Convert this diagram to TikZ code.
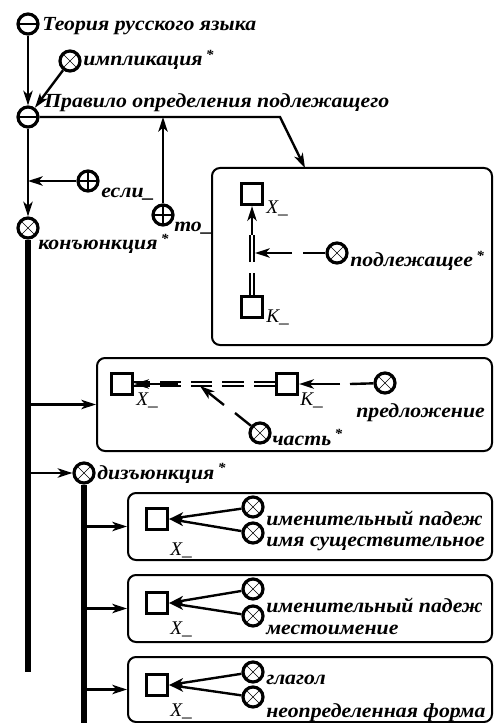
\documentclass[tikz,border=0pt]{standalone}
\usepackage{fontspec}
\setmainfont{Liberation Serif}
\newfontfamily\lblfont[FakeStretch=1.09]{Liberation Serif}
\usetikzlibrary{arrows.meta, positioning, fit}

\tikzset{
  sym/.style={circle, draw, line width=2.4pt, minimum size=15pt, inner sep=0pt, fill=white},
  ominus/.style={sym, path picture={\draw[line width=1.8pt] (path picture bounding box.west) -- (path picture bounding box.east);}},
  otimes/.style={sym, path picture={\draw[line width=0.5pt] (path picture bounding box.north west) -- (path picture bounding box.south east) (path picture bounding box.north east) -- (path picture bounding box.south west);}},
  oplus/.style={sym, path picture={\draw[line width=0.8pt] (path picture bounding box.west) -- (path picture bounding box.east) (path picture bounding box.north) -- (path picture bounding box.south);}},
  sq/.style={draw, line width=2.2pt, minimum size=16pt, inner sep=0pt, fill=white},
  lbl/.style={anchor=base west, inner sep=0pt, font=\lblfont\bfseries\itshape\fontsize{15}{17}\selectfont},
  var/.style={anchor=base west, inner sep=0pt, font=\itshape\fontsize{14.5}{16}\selectfont},
  frame/.style={draw, line width=1.5pt, rounded corners=6pt, inner sep=0pt},
  link/.style={line width=1.8pt},
  arr/.style={link, -{Stealth[length=11pt, width=7pt, inset=3pt]}},
  dbl/.style={double, double distance=2.2pt, line width=1.3pt},
  bar/.style={line width=5pt}
}

\begin{document}
\begin{tikzpicture}[x=0.75pt, y=-0.75pt]
  \useasboundingbox (0,0) rectangle (494,723);

  % Rule head
  \node[ominus] (teoria) at (28,24) {};
  \node[lbl] (teoriatxt) at (42,31) {Теория русского языка};
  \node[otimes] (impl) at (70,61) {};
  \node[lbl] (impltxt) at (83,66) {импликация\,\textsuperscript{*}};
  \node[ominus] (pravilo) at (28,117) {};
  \node[lbl] (pravilotxt) at (44,108) {Правило определения подлежащего};
  \draw[arr] (teoria) -- (pravilo);
  \draw[arr] (impl) -- (pravilo);

  % if / then
  \node[oplus] (esli) at (88,181) {};
  \node[lbl] (eslitxt) at (101,198) {если\_};
  \node[oplus] (to) at (163,215) {};
  \node[lbl] (totxt) at (174,232) {то\_};
  \node[otimes] (konj) at (28,228) {};
  \node[lbl] (konjtxt) at (38,250) {конъюнкция\,\textsuperscript{*}};
  \draw[arr] (pravilo) -- (konj);
  \draw[arr] (esli) -- (esli -| pravilo);
  \draw[arr] (to) -- (to |- pravilo);

  % subject box
  \node[frame, fit={(212,168) (492,345)}] (box1) {};
  \coordinate (knee) at (280,117);
  \coordinate (tip1) at (305,168);
  \draw[arr] (pravilo) -- (knee) -- (tip1);
  \node[sq] (sqx) at (252,194) {};
  \node[var] (sqxtxt) at (266,214) {X\_};
  \node[sq] (sqk) at (252,307) {};
  \node[var] (sqktxt) at (266,322) {K\_};
  \node[otimes] (podl) at (337,253) {};
  \node[lbl] (podltxt) at (350,267) {подлежащее\,\textsuperscript{*}};
  \coordinate (dk) at (252,273);
  \coordinate (du) at (252,262);
  \coordinate (dt) at (252,235);
  \coordinate (pgap) at (303,253);
  \coordinate (pgapend) at (292,253);
  \coordinate (ptip) at (255,253);
  \draw[dbl] (sqk) -- (dk);
  \draw[dbl] (du) -- (dt);
  \draw[arr] (dt) -- (sqx);
  \draw[link] (podl) -- (pgap);
  \draw[arr] (pgapend) -- (ptip);

  % sentence box
  \node[frame, fit={(97,358) (492,451)}] (box2) {};
  \draw[arr] (konj |- box2.west) -- (box2.west);
  \node[sq] (sqx2) at (122,384) {};
  \node[var] (sqx2txt) at (136,405) {X\_};
  \node[sq] (sqk2) at (287,384) {};
  \node[var] (sqk2txt) at (300,405) {K\_};
  \node[otimes] (chast) at (260,433) {};
  \node[lbl] (chasttxt) at (272,445) {часть\,\textsuperscript{*}};
  \node[otimes] (predl) at (385,383) {};
  \node[lbl] (predltxt) at (356,417) {предложение};
  \draw[dbl, dash pattern=on 16pt off 7.5pt] (sqk2) -- (sqx2);
  \coordinate (xa) at (178,384);
  \draw[arr] (xa) -- (sqx2);
  \coordinate (ca) at (235,413);
  \coordinate (cb) at (224,405);
  \coordinate (ct) at (200,386);
  \draw[link] (chast) -- (ca);
  \draw[arr] (cb) -- (ct);
  \coordinate (pa) at (350,384);
  \coordinate (pb) at (340,384);
  \draw[link] (predl) -- (pa);
  \draw[arr] (pb) -- (sqk2);

  % disjunction
  \node[otimes] (diz) at (84,473) {};
  \node[lbl] (diztxt) at (97,479) {дизъюнкция\,\textsuperscript{*}};
  \draw[arr] (konj |- diz) -- (diz);
  \coordinate (bar1end) at (28,672);
  \coordinate (bar2end) at (84,723);
  \draw[bar] (konj) -- (bar1end);
  \draw[bar] (diz) -- (bar2end);

  % noun
  \node[frame, fit={(128,493) (492,560)}] (box3) {};
  \draw[arr] (diz |- box3.west) -- (box3.west);
  \node[sq] (sq3) at (157,519) {};
  \node[var] (sq3txt) at (170,555) {X\_};
  \node[otimes] (imen1) at (253,507) {};
  \node[otimes] (sush) at (253,533) {};
  \node[lbl] (imen1txt) at (266,525) {именительный падеж};
  \node[lbl] (sushtxt) at (266,546) {имя существительное};
  \draw[arr] (imen1) -- (sq3.east);
  \draw[arr] (sush) -- (sq3.east);

  % pronoun
  \node[frame, fit={(128,575) (492,642)}] (box4) {};
  \draw[arr] (diz |- box4.west) -- (box4.west);
  \node[sq] (sq4) at (157,603) {};
  \node[var] (sq4txt) at (170,634) {X\_};
  \node[otimes] (imen2) at (253,589) {};
  \node[otimes] (mest) at (253,616) {};
  \node[lbl] (imen2txt) at (266,612) {именительный падеж};
  \node[lbl] (mesttxt) at (266,634) {местоимение};
  \draw[arr] (imen2) -- (sq4.east);
  \draw[arr] (mest) -- (sq4.east);

  % infinitive
  \node[frame, fit={(128,657) (492,722)}] (box5) {};
  \draw[arr] (diz |- box5.west) -- (box5.west);
  \node[sq] (sq5) at (157,685) {};
  \node[var] (sq5txt) at (170,716) {X\_};
  \node[otimes] (glag) at (253,672) {};
  \node[otimes] (neopr) at (253,697) {};
  \node[lbl] (glagtxt) at (266,684) {глагол};
  \node[lbl] (neoprtxt) at (266,717) {неопределенная форма};
  \draw[arr] (glag) -- (sq5.east);
  \draw[arr] (neopr) -- (sq5.east);
\end{tikzpicture}
\end{document}
